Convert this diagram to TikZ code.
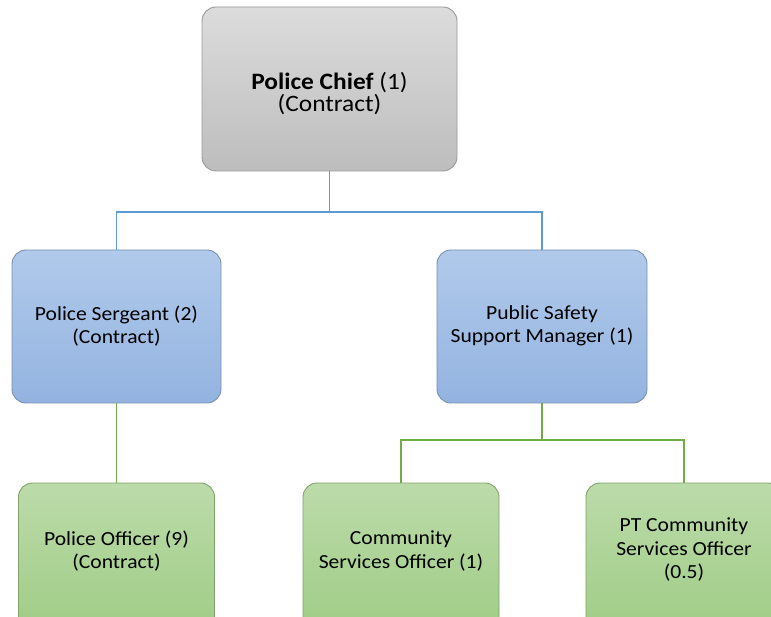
\documentclass[tikz,border=0pt]{standalone}
\usepackage{fontspec}
\setmainfont{Carlito}[FakeStretch=1.08]
\definecolor{grayTop}{HTML}{DCDCDC}
\definecolor{grayBot}{HTML}{BDBDBD}
\definecolor{grayLine}{HTML}{999999}
\definecolor{blueTop}{HTML}{B1CAEB}
\definecolor{blueBot}{HTML}{93B3E0}
\definecolor{blueLine}{HTML}{7A8FAE}
\definecolor{greenTop}{HTML}{BCDBAA}
\definecolor{greenBot}{HTML}{9ECC84}
\definecolor{greenLine}{HTML}{80A26C}
\definecolor{connBlue}{HTML}{5B9BD5}
\definecolor{connGreen}{HTML}{70AD47}
\tikzset{
  box/.style={rectangle, rounded corners=14pt, line width=0.9pt, inner sep=0pt},
  graybox/.style={box, draw=grayLine, top color=grayTop, bottom color=grayBot},
  bluebox/.style={box, draw=blueLine, top color=blueTop, bottom color=blueBot},
  greenbox/.style={box, draw=greenLine, top color=greenTop, bottom color=greenBot},
  lbl/.style={align=center, font=\fontsize{20}{23.5}\selectfont, text=black, inner sep=0pt},
  bconn/.style={draw=connBlue, line width=1.5pt},
  gconn/.style={draw=connGreen, line width=1.5pt}
}
\begin{document}
\begin{tikzpicture}[x=1pt,y=-1pt]
\useasboundingbox (0,0) rectangle (771,617);
\clip (0,0) rectangle (771,617);
\coordinate (j1) at (329.5,212);
\coordinate (j2) at (542,440);
% boxes
\node[graybox, minimum width=255pt, minimum height=164pt] (chief) at (329.5,89) {};
\node[lbl, font=\fontsize{23.5}{22}\selectfont] (chieft) at (329.5,94) {\textbf{Police Chief} (1)\\(Contract)};
\node[bluebox, minimum width=209pt, minimum height=153pt] (sgt) at (116.5,326.5) {};
\node[lbl] (sgtt) at (116.5,326) {Police Sergeant (2)\\(Contract)};
\node[bluebox, minimum width=210pt, minimum height=153pt] (pssm) at (542,326.5) {};
\node[lbl] (pssmt) at (542,326) {Public Safety\\Support Manager (1)};
\node[greenbox, minimum width=196pt, minimum height=154pt] (po) at (116.5,560) {};
\node[lbl] (pot) at (116.5,551) {Police Officer (9)\\(Contract)};
\node[greenbox, minimum width=196pt, minimum height=154pt] (cso) at (401,560) {};
\node[lbl] (csot) at (401,551) {Community\\Services Officer (1)};
\node[greenbox, minimum width=196pt, minimum height=154pt] (pt) at (684,560) {};
\node[lbl] (ptt) at (684,550) {PT Community\\Services Officer\\(0.5)};
% connectors
\draw[bconn] (chief.south) -- (j1);
\draw[bconn] (sgt.north) |- (j1) -| (pssm.north);
\draw[gconn] (sgt.south) -- (po.north);
\draw[gconn] (pssm.south) -- (j2);
\draw[gconn] (cso.north) |- (j2) -| (pt.north);
\end{tikzpicture}
\end{document}
